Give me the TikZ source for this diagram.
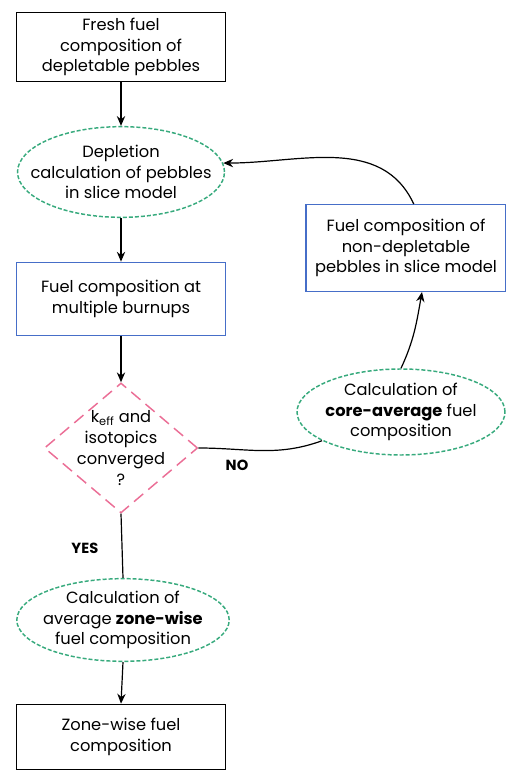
\documentclass[tikz,border=0pt]{standalone}
\usepackage{fontspec}
\setmainfont{Poppins}
\usepackage{xcolor}
\usetikzlibrary{arrows.meta,shapes.geometric}
\definecolor{calcgreen}{RGB}{55,170,125}
\definecolor{boxblue}{RGB}{70,110,200}
\definecolor{decpink}{RGB}{235,110,150}
\begin{document}
\begin{tikzpicture}[x=0.75pt,y=0.75pt,>={Stealth[length=2.6mm,width=2.2mm]},
  every node/.style={font=\fontsize{12.2}{15.6}\selectfont,align=center},
  box/.style={draw,line width=1pt,inner sep=2pt,minimum width=156.75pt},
  plain/.style={box,minimum height=52pt},
  fuel/.style={box,draw=boxblue,minimum height=55pt},
  calc/.style={ellipse,draw=calcgreen,line width=1.1pt,dash pattern=on 3pt off 1.5pt,inner sep=0pt},
  check/.style={diamond,draw=decpink,line width=1.1pt,dash pattern=on 9pt off 5pt,aspect=1.18,inner sep=-4.3pt,minimum width=115pt,minimum height=97.5pt},
  lab/.style={font=\fontsize{11}{13}\selectfont\bfseries}]
\useasboundingbox (0,0) rectangle (506,772);
\node[plain] (F) at (121,725) {Fresh fuel\\composition of\\depletable pebbles};
\node[calc,inner xsep=-13pt,minimum width=155pt,minimum height=68pt] (D) at (121,600) {Depletion\\calculation of pebbles\\in slice model};
\node[fuel] (B) at (121,473) {Fuel composition at\\multiple burnups};
\node[check] (C) at (121,324) {k\textsubscript{eff} and\\isotopics\\converged\\?};
\node[calc,inner xsep=-3pt,minimum width=156pt,minimum height=64.5pt] (A) at (401,360) {Calculation of\\\textbf{core-average} fuel\\composition};
\node[fuel,minimum width=150pt,minimum height=65pt] (N) at (406,524) {Fuel composition of\\non-depletable\\pebbles in slice model};
\node[calc,inner xsep=-3.5pt,minimum width=159pt,minimum height=62pt] (Z) at (123,152) {Calculation of\\average \textbf{zone-wise}\\fuel composition};
\node[plain,minimum height=49pt] (W) at (121,35) {Zone-wise fuel\\composition};
% main line
\foreach \a/\b in {F/D,D/B,B/C,Z/W} \draw[->,line width=0.9pt] (\a.south) -- (\b.north);
\draw[line width=0.9pt] (C.south) -- (Z.north);
\node[lab,anchor=east] (yes) at (103,224) {YES};
% loop back
\draw[line width=0.9pt] (C.east) to[out=0,in=200] (A.200);
\node[lab] (no) at (237,307) {NO};
\draw[->,line width=0.9pt] (A.north) to[out=65,in=-100] (N.-70);
\draw[->,line width=0.9pt] (N.80) to[out=115,in=0] (D.5);
\end{tikzpicture}
\end{document}
